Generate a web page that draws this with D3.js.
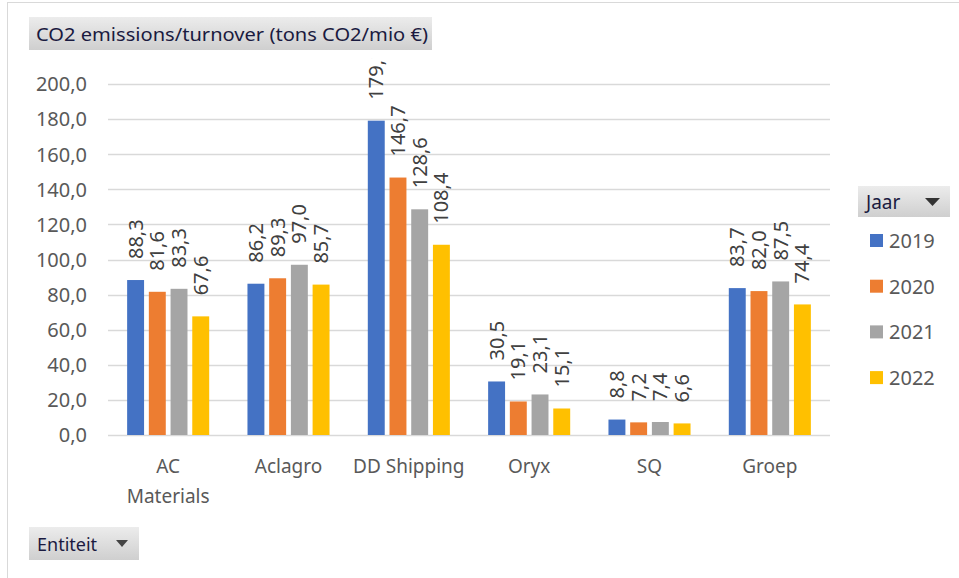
<!DOCTYPE html>
<html>
<head>
<meta charset="utf-8">
<script src="https://cdn.jsdelivr.net/npm/d3@7"></script>
<style>
  html, body { margin: 0; padding: 0; background: #fff; }
  svg { display: block; font-family: "Noto Sans", "Open Sans", sans-serif; }
</style>
</head>
<body>
<svg id="chart" width="959" height="578"></svg>
<script>
const categories = ["AC Materials", "Aclagro", "DD Shipping", "Oryx", "SQ", "Groep"];
const categoryLines = [["AC", "Materials"], ["Aclagro"], ["DD Shipping"], ["Oryx"], ["SQ"], ["Groep"]];
const years = ["2019", "2020", "2021", "2022"];
const v2019 = [88.3, 86.2, 179.1, 30.5, 8.8, 83.7];
const v2020 = [81.6, 89.3, 146.7, 19.1, 7.2, 82.0];
const v2021 = [83.3, 97.0, 128.6, 23.1, 7.4, 87.5];
const v2022 = [67.6, 85.7, 108.4, 15.1, 6.6, 74.4];
const series = [v2019, v2020, v2021, v2022];
const colors = ["#4472C4", "#ED7D31", "#A5A5A5", "#FFC000"];
const yTicks = [0, 20, 40, 60, 80, 100, 120, 140, 160, 180, 200];
const titleText = "CO2 emissions/turnover (tons CO2/mio €)";

const svg = d3.select("#chart");
const fmt = v => v.toFixed(1).replace(".", ",");

const defs = svg.append("defs");
const grad = defs.append("linearGradient").attr("id", "btn").attr("x1", 0).attr("y1", 0).attr("x2", 0).attr("y2", 1);
grad.append("stop").attr("offset", "0%").attr("stop-color", "#ececec");
grad.append("stop").attr("offset", "100%").attr("stop-color", "#cfcfcf");
defs.append("clipPath").attr("id", "lblclip").append("rect").attr("x", 0).attr("y", 58).attr("width", 959).attr("height", 520);

// outer frame
svg.append("rect").attr("x", 7.5).attr("y", 2.5).attr("width", 960).attr("height", 600)
  .attr("fill", "none").attr("stroke", "#d9d9d9").attr("stroke-width", 1);

const plotLeft = 108, plotRight = 830, plotTop = 84, plotBottom = 435;
const y = d3.scaleLinear().domain([0, 200]).range([plotBottom, plotTop]);
const x0 = d3.scaleBand().domain(categories).range([plotLeft, plotRight]).paddingInner(0.318).paddingOuter(0.159);
const x1 = d3.scaleBand().domain(years).range([0, x0.bandwidth()]).paddingInner(0.22);

// gridlines
svg.append("g").selectAll("line").data(yTicks).join("line")
  .attr("x1", plotLeft).attr("x2", plotRight)
  .attr("y1", d => Math.round(y(d)) + 0.5).attr("y2", d => Math.round(y(d)) + 0.5)
  .attr("stroke", "#d9d9d9").attr("stroke-width", 1.3);

// y axis labels
const yAxis = d3.axisLeft(y).tickValues(yTicks).tickFormat(fmt).tickSize(0).tickPadding(0);
const ya = svg.append("g").attr("transform", `translate(87,0)`).call(yAxis);
ya.select(".domain").remove();
ya.selectAll("text").attr("fill", "#595959").attr("font-size", 20).attr("font-family", "Noto Sans").attr("dy", "0.34em");

// bars
const groups = svg.append("g").selectAll("g").data(categories).join("g")
  .attr("transform", d => `translate(${x0(d)},0)`);
groups.selectAll("rect").data((d, i) => years.map((yr, k) => ({ yr, k, v: series[k][i] }))).join("rect")
  .attr("x", d => x1(d.yr)).attr("width", x1.bandwidth())
  .attr("y", d => y(d.v)).attr("height", d => y(0) - y(d.v))
  .attr("fill", d => colors[d.k]);

// data labels
const lbl = svg.append("g").attr("clip-path", "url(#lblclip)");
categories.forEach((c, i) => {
  years.forEach((yr, k) => {
    const v = series[k][i];
    const cx = x0(c) + x1(yr) + x1.bandwidth() / 2;
    const ty = y(v) - 21;
    lbl.append("text")
      .attr("transform", `translate(${cx + 7},${ty}) rotate(-90)`)
      .attr("text-anchor", "start")
      .attr("font-size", 20).attr("fill", "#404040")
      .text(fmt(v));
  });
});

// category labels
const xa = svg.append("g");
categories.forEach((c, i) => {
  const cx = x0(c) + x0.bandwidth() / 2;
  categoryLines[i].forEach((line, j) => {
    xa.append("text").attr("x", cx).attr("y", 473 + j * 30)
      .attr("text-anchor", "middle").attr("font-size", 19).attr("fill", "#595959")
      .text(line);
  });
});

// title button
svg.append("rect").attr("x", 29).attr("y", 17).attr("width", 403).attr("height", 33).attr("fill", "url(#btn)");
svg.append("text").attr("x", 36).attr("y", 41).attr("font-size", 18).attr("fill", "#1a1a40")
  .attr("textLength", 392).attr("lengthAdjust", "spacingAndGlyphs").text(titleText);

// legend
const lg = svg.append("g");
lg.append("rect").attr("x", 858).attr("y", 186).attr("width", 92).attr("height", 31).attr("fill", "url(#btn)");
lg.append("text").attr("x", 866).attr("y", 209).attr("font-size", 19).attr("fill", "#1a1a40").text("Jaar");
lg.append("path").attr("d", "M925,198 L940,198 L932.5,206 Z").attr("fill", "#333");
years.forEach((yr, k) => {
  const cy = 240 + k * 45.7;
  lg.append("rect").attr("x", 870).attr("y", cy - 6).attr("width", 13).attr("height", 13).attr("fill", colors[k]);
  lg.append("text").attr("x", 889).attr("y", cy + 8).attr("font-size", 20).attr("fill", "#595959").text(yr);
});

// Entiteit button
svg.append("rect").attr("x", 29).attr("y", 527).attr("width", 110).attr("height", 33).attr("fill", "url(#btn)");
svg.append("text").attr("x", 37).attr("y", 551).attr("font-size", 18).attr("fill", "#1a1a40").text("Entiteit");
svg.append("path").attr("d", "M116,540 L128,540 L122,547 Z").attr("fill", "#444");
</script>
</body>
</html>
